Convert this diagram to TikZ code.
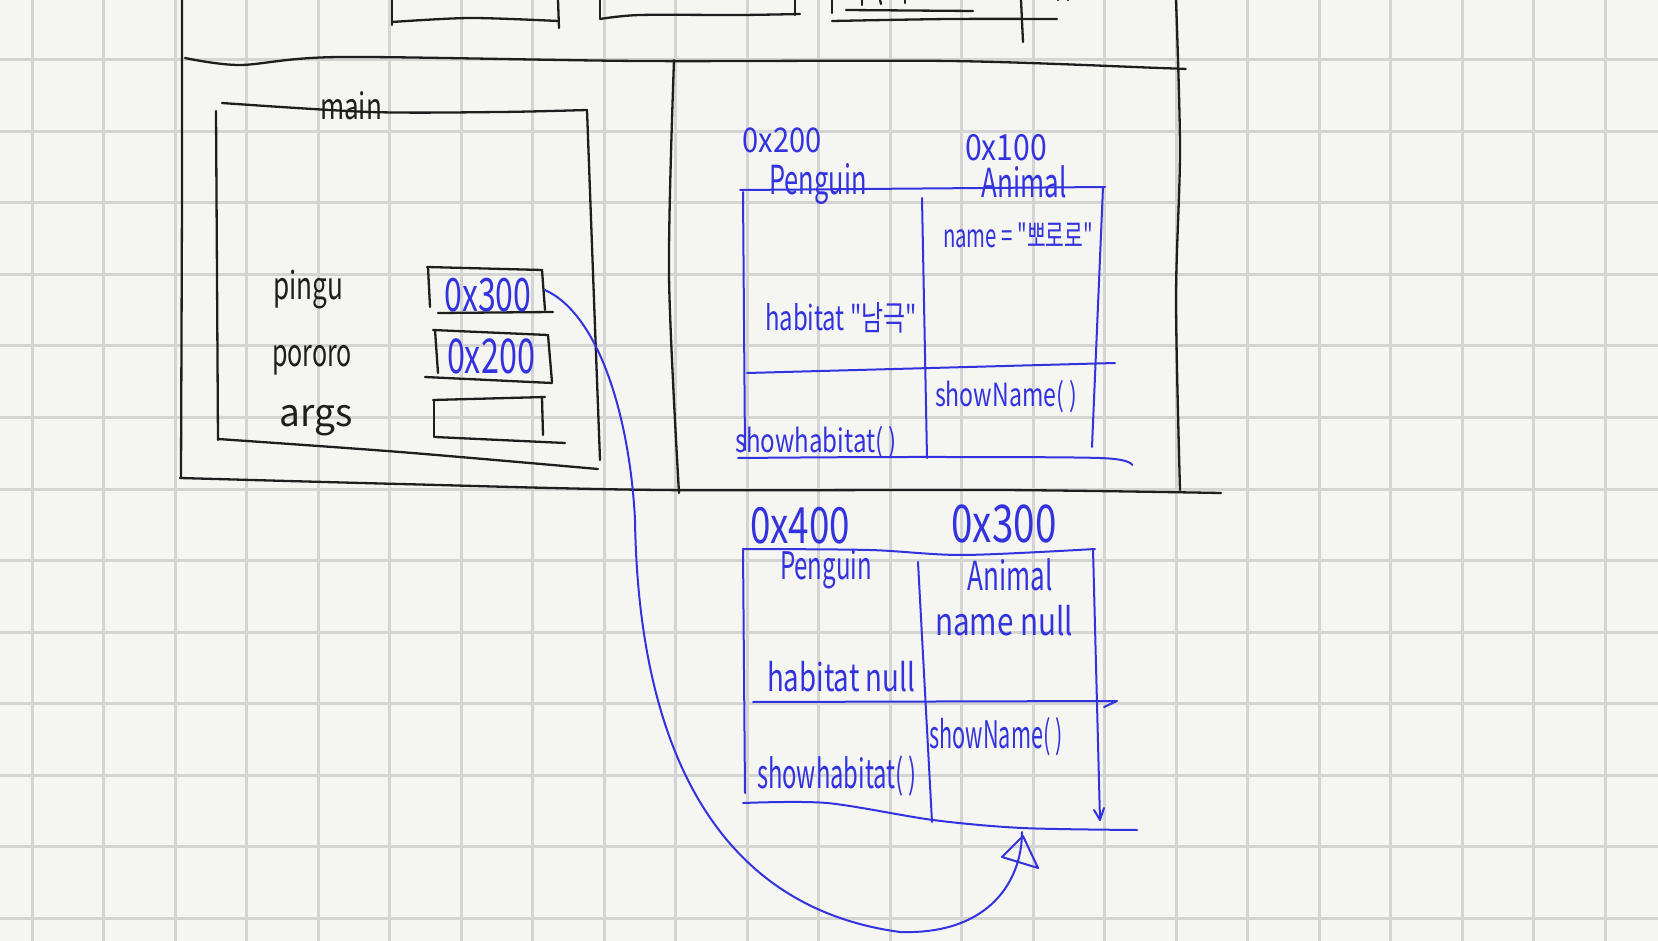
\documentclass[tikz,border=0pt]{standalone}
\usepackage{fontspec}
\setmainfont{Noto Sans CJK KR}[Ligatures=TeXOff]
\usepackage{graphicx}
\definecolor{paper}{RGB}{245,245,242}
\definecolor{gridc}{RGB}{212,212,210}
\definecolor{inkk}{RGB}{30,30,30}
\definecolor{inkb}{RGB}{50,50,222}
% width-fitted text at a given font size
\newcommand{\hw}[3]{\resizebox{#1pt}{\height}{\fontsize{#2pt}{#2pt}\selectfont #3}}
\begin{document}
\begin{tikzpicture}[x=1pt,y=-1pt,
  gridline/.style={line width=3pt,color=gridc},
  ink/.style={line width=2.3pt,color=inkk,line cap=round,line join=round},
  bink/.style={line width=2pt,color=inkb,line cap=round,line join=round},
  lbl/.style={inner sep=0pt,outer sep=0pt,text=inkk},
  blbl/.style={inner sep=0pt,outer sep=0pt,text=inkb}]
\fill[paper] (0,0) rectangle (1658,941);
\useasboundingbox (0,0) rectangle (1658,941);
% grid
\foreach \i in {0,...,22} \draw[gridline] ({32+71.5*\i},0) -- ({32+71.5*\i},941);
\foreach \j in {0,...,12} \draw[gridline] (0,{60+71.5*\j}) -- (1658,{60+71.5*\j});

% ---------- top strip (cut off) ----------
\draw[ink] (392,0) -- (392,25);
\draw[ink] plot[smooth] coordinates {(392,22) (470,18) (558,21)};
\draw[ink] (558,0) -- (559,28);
\draw[ink] (600,0) -- (600,18);
\draw[ink] plot[smooth] coordinates {(600,19) (640,15) (740,15) (800,14)};
\draw[ink] (795,0) -- (795,15);
\draw[ink] (832,0) -- (832,13);
\draw[ink] (846,10) -- (973,11);
\draw[ink] (862,0) -- (862,5);
\draw[ink] (880,0) -- (881,4);
\draw[ink] (905,0) -- (905,3);
\draw[ink] plot[smooth] coordinates {(832,21) (950,19) (1057,19)};
\draw[ink] (1021,0) -- (1023,42);
\draw[ink] (1058,0) arc[start angle=180,end angle=360,radius=5];

% ---------- stack frame ----------
\draw[ink] plot[smooth] coordinates {(185,58) (240,65) (340,57) (640,61) (950,61) (1160,68) (1185,69)};
\draw[ink] (182,0) -- (182,200) -- (181,478);
\draw[ink] plot[smooth] coordinates {(1176,0) (1180,150) (1176,300) (1180,490)};
\draw[ink] plot[smooth] coordinates {(180,478) (400,484) (660,490) (1000,490) (1221,493)};
\draw[ink] plot[smooth] coordinates {(674,60) (669,275) (679,493)};

% main frame box
\draw[ink] plot[smooth] coordinates {(222,103) (370,112) (500,112) (587,110)};
\draw[ink] (216,111) -- (218,440);
\draw[ink] (587,110) -- (594,300) -- (600,460);
\draw[ink] plot[smooth] coordinates {(218,439) (400,452) (598,469)};
\node[lbl] (tmain) at (351,106) {\hw{62}{36}{main}};

% variables
\node[lbl] (tpingu) at (308,290) {\hw{70}{38}{pingu}};
\node[lbl] (tpororo) at (312,360) {\hw{80}{38}{pororo}};
\node[lbl] (targs) at (316,421) {\hw{73}{38}{args}};

% value boxes
\draw[ink] (427,267) -- (542,270);
\draw[ink] (428,267) -- (430,307);
\draw[ink] (542,270) -- (545,310);
\draw[ink] (438,313) -- (553,312);
\node[blbl] (v300) at (488,295) {\hw{87}{46}{0x300}};

\draw[ink] (433,330) -- (548,335);
\draw[ink] (435,330) -- (438,373);
\draw[ink] (548,335) -- (552,382);
\draw[ink] (425,377) -- (552,383);
\node[blbl] (v200) at (491,356) {\hw{88}{48}{0x200}};

\draw[ink] (433,400) -- (545,397);
\draw[ink] (434,400) -- (434,437);
\draw[ink] (542,398) -- (543,435);
\draw[ink] (435,437) -- (565,443);

% ---------- heap object 0x200 / 0x100 ----------
\draw[bink] (740,190) -- (1105,187);
\draw[bink] (743,192) -- (745,450);
\draw[bink] (1103,187) -- (1092,447);
\draw[bink] (922,198) -- (927,458);
\draw[bink] (747,373) -- (1115,363);
\draw[bink] plot[smooth] coordinates {(738,458) (900,457) (1100,458) (1132,465)};
\node[blbl] (a200) at (782,140) {\hw{79}{34}{0x200}};
\node[blbl] (pen1) at (818,184) {\hw{97}{40}{Penguin}};
\node[blbl] (a100) at (1006,148) {\hw{82}{36}{0x100}};
\node[blbl] (ani1) at (1024,182) {\hw{85}{40}{Animal}};
\node[blbl] (name1) at (1018,235) {\hw{150}{32}{name = "뽀로로"}};
\node[blbl] (hab1) at (841,318) {\hw{152}{34}{habitat "남극"}};
\node[blbl] (sn1) at (1006,397) {\hw{142}{32}{showName( )}};
\node[blbl] (sh1) at (816,443) {\hw{162}{32}{showhabitat( )}};

% ---------- heap object 0x400 / 0x300 ----------
\draw[bink] plot[smooth] coordinates {(743,549) (870,550) (963,555) (1095,549)};
\draw[bink] (743,549) -- (745,793);
\draw[bink] (1093,549) -- (1100,820);
\draw[bink] (1094,810) -- (1100,820) -- (1104,808);
\draw[bink] (918,562) -- (932,822);
\draw[bink] (753,702) -- (1117,701) -- (1104,707);
\draw[bink] plot[smooth] coordinates {(743,803) (827,803) (933,820) (1022,828) (1137,830)};
\node[blbl] (a400) at (800,526) {\hw{100}{50}{0x400}};
\node[blbl] (a300) at (1004,524) {\hw{105}{52}{0x300}};
\node[blbl] (pen2) at (826,570) {\hw{92}{38}{Penguin}};
\node[blbl] (ani2) at (1010,575) {\hw{85}{40}{Animal}};
\node[blbl] (name2) at (1004,621) {\hw{138}{38}{name null}};
\node[blbl] (hab2) at (841,677) {\hw{148}{38}{habitat null}};
\node[blbl] (sn2) at (996,737) {\hw{133}{38}{showName( )}};
\node[blbl] (sh2) at (837,776) {\hw{160}{40}{showhabitat( )}};

% ---------- reference arrow pingu -> 0x300 object ----------
\coordinate (pstart) at (545,290);
\coordinate (ptip) at (1022,832);
\draw[bink] (pstart) .. controls (600,315) and (630,420) .. (635,520)
  .. controls (638,720) and (700,905) .. (900,932)
  .. controls (990,935) and (1022,880) .. (ptip);
\draw[bink] (1023,836) -- (1002,857) -- (1038,868) -- cycle;
\end{tikzpicture}
\end{document}
